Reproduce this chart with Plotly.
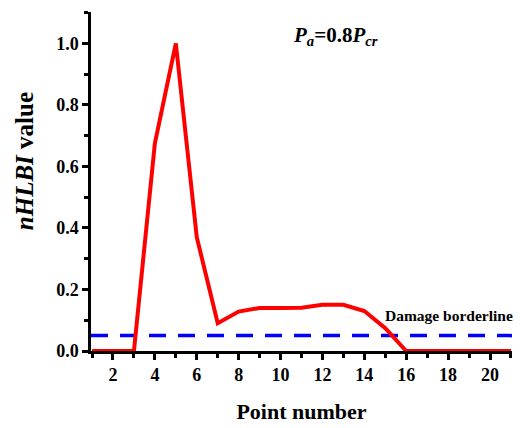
import plotly.graph_objects as go

points = list(range(1, 22))
nhlbi = [0, 0, 0, 0.675, 1.0, 0.37, 0.09, 0.128, 0.14, 0.14, 0.141, 0.15, 0.15, 0.13, 0.074,
         0, 0, 0, 0, 0, 0]
border_x = [0.95, 21.05]
border_y = [0.05, 0.05]

FONT = "Liberation Serif"

fig = go.Figure()
fig.add_trace(go.Scatter(x=border_x, y=border_y, mode="lines",
                         line=dict(color="#0000ff", width=3.5, dash="17px,12px"),
                         showlegend=False, cliponaxis=False))
fig.add_trace(go.Scatter(x=points, y=nhlbi, mode="lines",
                         line=dict(color="#ff0000", width=4),
                         showlegend=False, cliponaxis=False))

axis_common = dict(showgrid=False, zeroline=False, showline=True, linecolor="black",
                   linewidth=2.5, ticks="outside", ticklen=6, tickwidth=2.5,
                   tickcolor="black",
                   tickfont=dict(family=FONT, size=18, color="black", weight="bold"))

fig.update_xaxes(range=[0.95, 21.05], tickmode="array", tickvals=list(range(2, 21, 2)),
                 minor=dict(tickvals=list(range(1, 22, 2)), ticks="outside", ticklen=4,
                            tickwidth=2.5, tickcolor="black"),
                 title=dict(text="<b>Point number</b>", font=dict(family=FONT, size=22, color="black"),
                            standoff=20),
                 **axis_common)
fig.update_yaxes(range=[0, 1.102], tickmode="array", tickvals=[0, 0.2, 0.4, 0.6, 0.8, 1.0],
                 ticktext=["0.0", "0.2", "0.4", "0.6", "0.8", "1.0"],
                 minor=dict(tickvals=[0.1, 0.3, 0.5, 0.7, 0.9, 1.1], ticks="outside", ticklen=4,
                            tickwidth=2.5, tickcolor="black"),
                 **axis_common)

fig.add_annotation(x=-0.159, y=0.56, xref="paper", yref="paper",
                   text="<b><i>nHLBI</i> value</b>", textangle=-90,
                   showarrow=False, xanchor="center", yanchor="middle",
                   font=dict(family=FONT, size=25, color="black"))
fig.add_annotation(x=0.58, y=0.93, xref="paper", yref="paper",
                   text="<b><i>P<sub>a</sub></i>=0.8<i>P<sub>cr</sub></i></b>",
                   showarrow=False, xanchor="center", yanchor="middle",
                   font=dict(family=FONT, size=21, color="black"))
fig.add_annotation(x=1.008, y=0.114, xref="paper", yref="y",
                   text="<b>Damage borderline</b>", showarrow=False,
                   xanchor="right", yanchor="middle",
                   font=dict(family=FONT, size=15.5, color="black"))

fig.update_layout(width=520, height=428, margin=dict(l=91, r=8, t=12, b=77),
                  plot_bgcolor="white", paper_bgcolor="white")
fig.write_html("out.html")
